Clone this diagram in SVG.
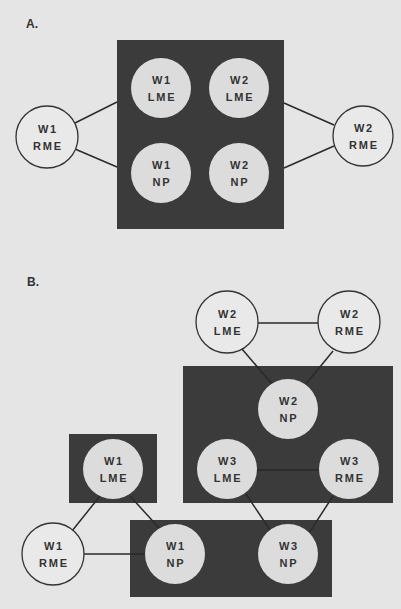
<svg xmlns="http://www.w3.org/2000/svg" width="401" height="609" viewBox="0 0 401 609">
<style>
.bg{fill:#e5e5e5}
.box{fill:#3b3b3b}
.in{fill:#dcdcdc;stroke:none}
.out{fill:#e9e9e9;stroke:#333;stroke-width:1.3}
.ln{stroke:#2a2a2a;stroke-width:1.5;fill:none}
text{font-family:"Liberation Sans",Arial,sans-serif;font-weight:bold;font-size:11px;fill:#333;text-anchor:middle;letter-spacing:1.8px}
.lab{font-size:12px;letter-spacing:0;text-anchor:start}
</style>
<rect class="bg" x="0" y="0" width="401" height="609"/>
<text class="lab" x="26" y="28">A.</text>
<text class="lab" x="27" y="286">B.</text>

<g id="boxes">
<rect id="boxA" class="box" x="117" y="40" width="167" height="189"/>
<rect id="boxB1" class="box" x="183" y="366" width="210" height="137"/>
<rect id="boxB2" class="box" x="69" y="434" width="88" height="69"/>
<rect id="boxB3" class="box" x="130" y="520" width="202" height="77"/>
</g>

<g id="connectors">
<line class="ln" x1="75" y1="123" x2="117" y2="102"/>
<line class="ln" x1="75" y1="149" x2="117" y2="167"/>
<line class="ln" x1="284" y1="103" x2="334" y2="125"/>
<line class="ln" x1="284" y1="168" x2="334" y2="146"/>

<line class="ln" x1="258" y1="323" x2="318" y2="323"/>
<line class="ln" x1="242" y1="349" x2="272" y2="384"/>
<line class="ln" x1="333" y1="351" x2="306" y2="384"/>
<line class="ln" x1="257" y1="470" x2="319" y2="470"/>
<line class="ln" x1="246" y1="494" x2="270" y2="530"/>
<line class="ln" x1="333" y1="496" x2="309" y2="533"/>
<line class="ln" x1="100" y1="496" x2="72" y2="531"/>
<line class="ln" x1="130" y1="496" x2="160" y2="529"/>
<line class="ln" x1="84" y1="554" x2="145" y2="554"/>
</g>

<g id="A_W1_RME"><circle class="out" cx="47" cy="137" r="31"/><text x="48" y="133">W1</text><text x="48" y="150">RME</text></g>
<g id="A_W2_RME"><circle class="out" cx="363" cy="136" r="30"/><text x="364" y="132">W2</text><text x="364" y="149">RME</text></g>
<g id="A_W1_LME"><circle class="in" cx="161" cy="88" r="30"/><text x="162" y="84">W1</text><text x="162" y="101">LME</text></g>
<g id="A_W2_LME"><circle class="in" cx="239" cy="88" r="30"/><text x="240" y="84">W2</text><text x="240" y="101">LME</text></g>
<g id="A_W1_NP"><circle class="in" cx="161" cy="173" r="30"/><text x="162" y="169">W1</text><text x="162" y="186">NP</text></g>
<g id="A_W2_NP"><circle class="in" cx="239" cy="173" r="30"/><text x="240" y="169">W2</text><text x="240" y="186">NP</text></g>

<g id="B_W2_LME"><circle class="out" cx="227" cy="322" r="31"/><text x="228" y="318">W2</text><text x="228" y="335">LME</text></g>
<g id="B_W2_RME"><circle class="out" cx="349" cy="322" r="31"/><text x="350" y="318">W2</text><text x="350" y="335">RME</text></g>
<g id="B_W2_NP"><circle class="in" cx="288" cy="409" r="30"/><text x="289" y="405">W2</text><text x="289" y="422">NP</text></g>
<g id="B_W3_LME"><circle class="in" cx="227" cy="469" r="30"/><text x="228" y="465">W3</text><text x="228" y="482">LME</text></g>
<g id="B_W3_RME"><circle class="in" cx="349" cy="469" r="30"/><text x="350" y="465">W3</text><text x="350" y="482">RME</text></g>
<g id="B_W1_LME"><circle class="in" cx="113" cy="469" r="30"/><text x="114" y="465">W1</text><text x="114" y="482">LME</text></g>
<g id="B_W1_NP"><circle class="in" cx="175" cy="554" r="30"/><text x="176" y="550">W1</text><text x="176" y="567">NP</text></g>
<g id="B_W3_NP"><circle class="in" cx="288" cy="554" r="30"/><text x="289" y="550">W3</text><text x="289" y="567">NP</text></g>
<g id="B_W1_RME"><circle class="out" cx="53" cy="554" r="31"/><text x="54" y="550">W1</text><text x="54" y="567">RME</text></g>
</svg>
